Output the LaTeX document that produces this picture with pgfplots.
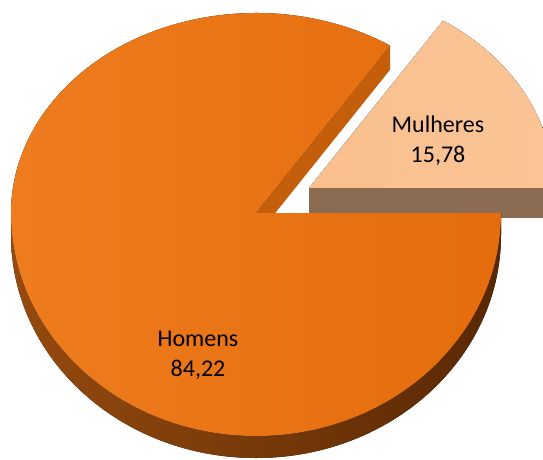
\documentclass[border=0pt]{standalone}
\usepackage{pgfplots}
\pgfplotsset{compat=1.18}
\usepackage{pgfplotstable}
\usepackage{fontspec}
\setmainfont{Carlito}
\usetikzlibrary{calc}

\pgfplotstableread{
label value
Mulheres 15.78
Homens 84.22
}\piedata

\definecolor{homL}{RGB}{238,124,30}
\definecolor{homR}{RGB}{228,108,12}
\definecolor{homcut}{RGB}{197,94,10}
\definecolor{sideL}{RGB}{150,74,14}
\definecolor{sideR}{RGB}{88,40,4}
\definecolor{mulL}{RGB}{250,192,142}
\definecolor{mulR}{RGB}{250,196,150}
\definecolor{mulside}{RGB}{139,108,82}

\begin{document}
\begin{tikzpicture}
\pgfplotstablegetelem{0}{value}\of\piedata
\pgfmathsetmacro{\angM}{360*\pgfplotsretval/100}
\begin{axis}[x=1pt,y=1pt,xmin=0,xmax=543,ymin=0,ymax=459,
  hide axis,clip=true]
\coordinate (ll) at (axis cs:0,0);
\coordinate (ur) at (axis cs:543,459);
\coordinate (H) at (axis cs:256,246);
\coordinate (M) at (axis cs:309,271);
% Mulheres (exploded slice)
\fill[mulside] (M) -- ++(245pt,0) -- ++(0,-30pt) -- ++(-245pt,0) -- cycle;
\fill[left color=mulL,right color=mulR] (M) -- ++(245pt,0)
  arc[start angle=0,end angle=\angM,x radius=245pt,y radius=200pt] -- cycle;
% Homens side
\fill[left color=sideL,right color=sideR] (H) ++(-245pt,0)
  arc[start angle=180,end angle=360,x radius=245pt,y radius=223pt]
  -- ++(0,-22pt)
  arc[start angle=360,end angle=180,x radius=245pt,y radius=223pt] -- cycle;
% Homens cut face
\fill[homcut] (H) -- ++(\angM:245pt and 200pt) -- ++(0,-24pt)
  -- ++(\angM+180:245pt and 200pt) -- cycle;
% Homens top face
\fill[left color=homL,right color=homR] (H) -- ++(\angM:245pt and 200pt)
  arc[start angle=\angM,end angle=180,x radius=245pt,y radius=200pt]
  arc[start angle=180,end angle=360,x radius=245pt,y radius=223pt] -- cycle;
% labels
\node[align=center,font=\fontsize{24}{30}\selectfont] at (axis cs:438,318) {Mulheres\\15,78};
\node[align=center,font=\fontsize{24}{30}\selectfont] at (axis cs:198,104) {Homens\\84,22};
\end{axis}
\pgfresetboundingbox
\path[use as bounding box] (ll) rectangle (ur);
\end{tikzpicture}
\end{document}
